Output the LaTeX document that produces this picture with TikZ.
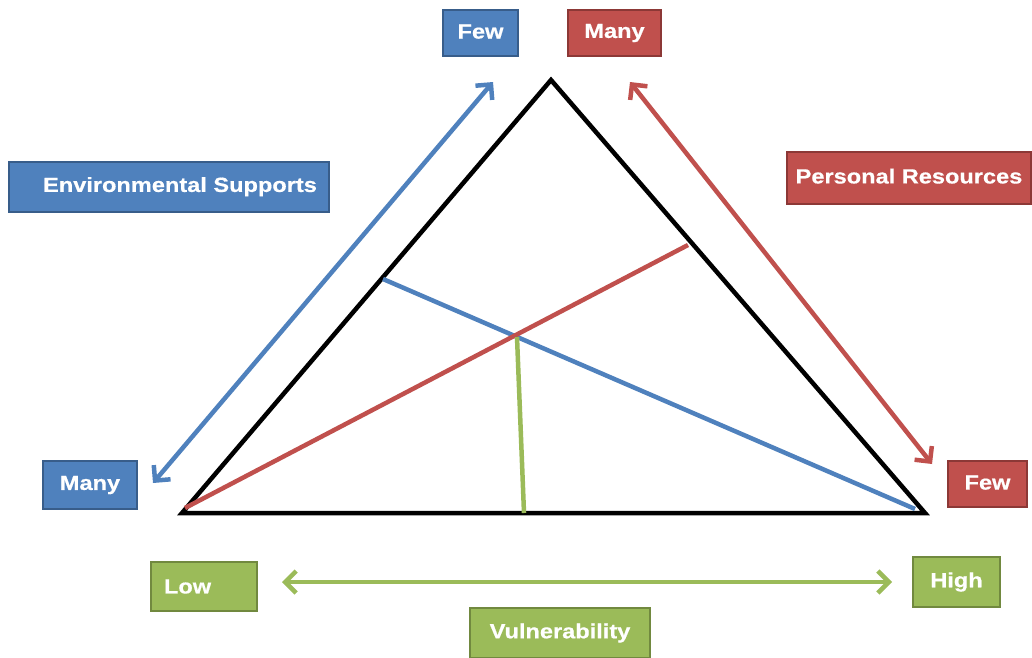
\documentclass[tikz,border=0pt]{standalone}
\usepackage{fontspec}
\setmainfont{Liberation Sans}
\newfontfamily\labelfont{Liberation Sans}[FakeStretch=1.15,FakeBold=0.6]
\usetikzlibrary{arrows.meta}
\definecolor{envblue}{HTML}{4F81BD}
\definecolor{envblueedge}{HTML}{385D8A}
\definecolor{persred}{HTML}{C0504D}
\definecolor{persrededge}{HTML}{8C3836}
\definecolor{vulngreen}{HTML}{9BBB59}
\definecolor{vulngreenedge}{HTML}{71893F}
\begin{document}
\begin{tikzpicture}
  [
    x=1pt, y=-1pt,
    box/.style =
      {draw, rectangle, line width=2pt, align=center, inner sep=0pt,
       text=white, font=\labelfont\bfseries\fontsize{20.5}{24}\selectfont},
    bbox/.style = {box, fill=envblue, draw=envblueedge},
    rbox/.style = {box, fill=persred, draw=persrededge},
    gbox/.style = {box, fill=vulngreen, draw=vulngreenedge},
    span/.style =
      {line width=4.5pt,
       {Straight Barb[length=11pt,width=22pt,line width=4.5pt]}-{Straight Barb[length=11pt,width=22pt,line width=4.5pt]}},
    cut/.style = {line width=4.5pt}
  ]
  \useasboundingbox (0,0) rectangle (1032,657);

  \node [bbox, minimum width=75,  minimum height=46] at (480.5,33)  (fewtop)  {\raisebox{3pt}{Few}};
  \node [rbox, minimum width=93,  minimum height=46] at (614.5,33)  (manytop) {\raisebox{3pt}{Many}};
  \node [bbox, minimum width=320, minimum height=50] at (169,187)   (env)     {\raisebox{5pt}{\hspace{22pt}Environmental Supports}};
  \node [rbox, minimum width=244, minimum height=52] at (909,178)   (pers)    {\raisebox{4pt}{Personal Resources}};
  \node [bbox, minimum width=94,  minimum height=48] at (90,485)    (manyleft){Many};
  \node [rbox, minimum width=79,  minimum height=46] at (987.5,484) (fewright){\raisebox{3pt}{Few}};
  \node [gbox, minimum height=49, text width=80, inner xsep=13pt, align=left]
        at (204,586.5) (low)  {\raisebox{-3pt}{Low}};
  \node [gbox, minimum width=87,  minimum height=50] at (956.5,582) (high)    {High};
  \node [gbox, minimum width=180, minimum height=50] at (560,633)   (vuln)    {\raisebox{-3pt}{Vulnerability}};

  % triangle
  \coordinate (tl) at (182,513);
  \coordinate (tt) at (551,80);
  \coordinate (tr) at (925,513);
  \draw [line width=4.5pt, line join=miter] (tl) -- (tt) -- (tr) -- cycle;

  % lines inside
  \coordinate (bs) at (383,279);
  \coordinate (be) at (915,509);
  \coordinate (rs) at (185,508);
  \coordinate (re) at (688,245);
  \coordinate (gs) at (517,337);
  \coordinate (ge) at (524,513);
  \draw [cut, envblue]   (bs) -- (be);
  \draw [cut, persred]   (rs) -- (re);
  \draw [cut, vulngreen] (gs) -- (ge);

  % scales
  \coordinate (ea) at (153,483);
  \coordinate (eb) at (493,82);
  \coordinate (pa) at (630,82);
  \coordinate (pb) at (932,464);
  \coordinate (va) at (282,582);
  \coordinate (vb) at (892,582);
  \draw [span, envblue]   (ea) -- (eb);
  \draw [span, persred]   (pa) -- (pb);
  \draw [span, vulngreen] (va) -- (vb);

\end{tikzpicture}
\end{document}
